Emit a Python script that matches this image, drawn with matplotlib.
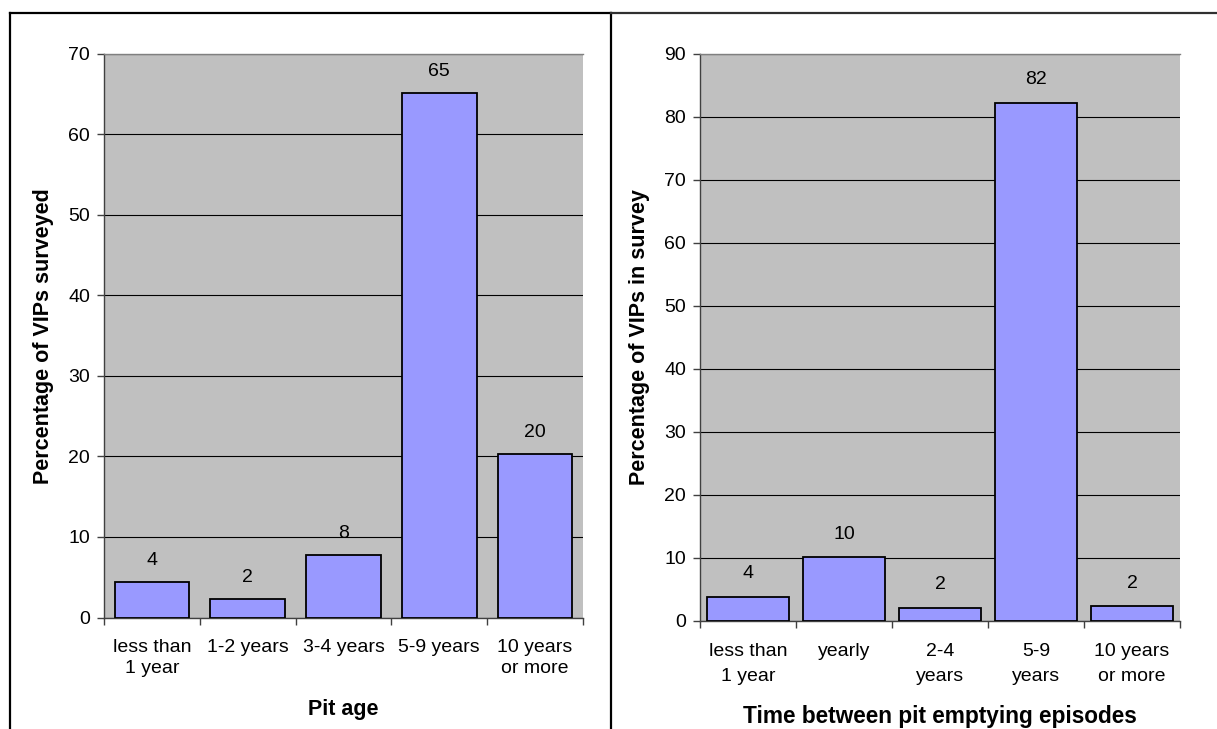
import matplotlib.pyplot as plt
from matplotlib.lines import Line2D

plt.rcParams['font.family'] = ['Liberation Sans', 'DejaVu Sans']

# left panel: pit age
age_cats = ['less than\n1 year', '1-2 years', '3-4 years', '5-9 years', '10 years\nor more']
age_vals = [4.4, 2.3, 7.7, 65.1, 20.3]

# right panel: time between emptying
empty_cats = ['less than\n1 year', 'yearly', '2-4\nyears', '5-9\nyears', '10 years\nor more']
empty_vals = [3.8, 10.1, 2.1, 82.2, 2.3]

BAR = '#9999FF'
BG = '#C0C0C0'
W, H = 1217, 729
FS = 14


def draw_panel(ax, cats, vals, ymax, step, width, xlabel, ylabel, lab_off,
               lsp, xpad, xlpad, xlfs):
    x = range(len(cats))
    ax.set_facecolor(BG)
    ax.bar(x, vals, width=width, color=BAR, edgecolor='black', linewidth=1.3, zorder=3)
    for xi, v in zip(x, vals):
        ax.annotate(f'{round(v):d}', (xi, v), xytext=(0, lab_off), textcoords='offset pixels',
                    ha='center', va='center', fontsize=FS, zorder=4)
    ax.set_xlim(-0.5, len(cats) - 0.5)
    ax.set_ylim(0, ymax)
    ax.set_yticks(range(0, ymax + 1, step))
    ax.yaxis.grid(True, color='black', linewidth=0.8)
    ax.set_axisbelow(True)
    # category ticks between bars, labels centred under bars
    ax.set_xticks([i - 0.5 for i in range(len(cats) + 1)])
    ax.set_xticklabels([])
    ax.set_xticks(list(x), minor=True)
    ax.set_xticklabels(cats, minor=True, fontsize=FS, linespacing=lsp)
    ax.tick_params(axis='x', which='major', length=5, width=1, color='#404040', direction='out')
    ax.tick_params(axis='x', which='minor', length=0, pad=xpad)
    ax.tick_params(axis='y', length=5, width=1, color='#404040', pad=5, labelsize=FS)
    ax.spines['right'].set_visible(False)
    ax.spines['top'].set_color('#808080')
    ax.spines['left'].set_color('#404040')
    ax.spines['bottom'].set_color('#404040')
    for s in ax.spines.values():
        s.set_linewidth(1)
    ax.set_xlabel(xlabel, fontsize=xlfs, fontweight='bold', labelpad=xlpad)
    ax.set_ylabel(ylabel, fontsize=15.5, fontweight='bold', labelpad=10)


fig = plt.figure(figsize=(W / 100, H / 100), dpi=100)
ax1 = fig.add_axes([104 / W, 1 - 617.5 / H, 479 / W, 563.7 / H])
ax2 = fig.add_axes([700 / W, 1 - 620.8 / H, 480 / W, 567.1 / H])

draw_panel(ax1, age_cats, age_vals, 70, 10, 0.78, 'Pit age', 'Percentage of VIPs surveyed',
           21.5, 1.32, 15.5, 15.5, 15.5)
draw_panel(ax2, empty_cats, empty_vals, 90, 10, 0.85, 'Time between pit emptying episodes',
           'Percentage of VIPs in survey', 23, 1.66, 15.8, 14.5, 16.3)


# frame lines around the two panels
def fline(x0, y0, x1, y1, c='black'):
    fig.add_artist(Line2D([x0 / W, x1 / W], [1 - y0 / H, 1 - y1 / H], color=c, linewidth=1.6,
                          transform=fig.transFigure))


fline(9.5, 13, 611, 13)
fline(9.5, 13, 9.5, H)
fline(611, 13, 611, H)
fline(611, 13, W, 13, '#303030')

fig.savefig('out.png', dpi=100)
